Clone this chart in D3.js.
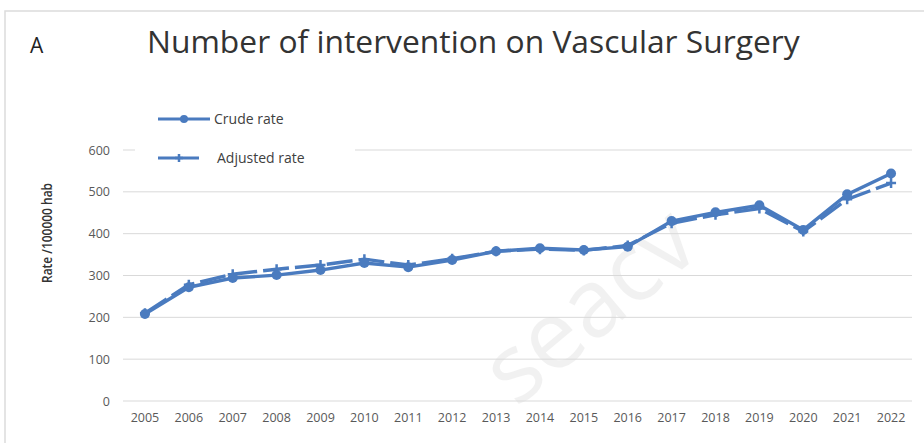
<!DOCTYPE html>
<html>
<head>
<meta charset="utf-8">
<script src="https://cdn.jsdelivr.net/npm/d3@7"></script>
<style>
  body { margin: 0; background: #fff; }
  svg text { font-family: "Open Sans", "DejaVu Sans", sans-serif; }
</style>
</head>
<body>
<svg id="viz" width="924" height="443"></svg>
<script>
const years = ["2005","2006","2007","2008","2009","2010","2011","2012","2013","2014","2015","2016","2017","2018","2019","2020","2021","2022"]
const crude_rate = [208, 272, 294, 301, 313, 330, 320, 337, 358, 365, 361, 369, 430, 451, 468, 409, 494, 544]
const adjusted_rate = [210, 278, 303, 315, 325, 339, 325, 340, 358, 363, 360, 372, 425, 445, 460, 405, 482, 521]
const y_ticks = [0, 100, 200, 300, 400, 500, 600]

const svg = d3.select("#viz"),
    blue = "#4a7bbf"

const x = d3.scaleBand().domain(years).range([123, 913]),
    y = d3.scaleLinear().domain([0, 600]).range([401, 150])

// frame of the original picture
svg.append("path")
    .attr("d", "M5,443 V11 H924")
    .attr("fill", "none")
    .attr("stroke", "#dcdcdc")
    .attr("stroke-width", 1.5)

// watermark
const wm = svg.append("g").attr("transform", "translate(610,330) rotate(-40)")
wm.append("text")
    .attr("text-anchor", "middle")
    .attr("font-size", 95)
    .attr("fill", "#000")
    .attr("opacity", 0.05)
    .text("seacv")

// title
svg.append("text").attr("x", 30).attr("y", 53)
    .attr("font-size", 21).attr("fill", "#222").text("A")
const title = svg.append("text").attr("x", 147).attr("y", 53)
    .attr("font-size", 26).attr("fill", "#333")
    .text("Number of intervention on Vascular Surgery")
// fit the title to the width it has in the picture
const tw = title.node().getComputedTextLength()
title.attr("font-size", 26 * 653 / tw)

// gridlines
svg.append("g").selectAll("line")
    .data(y_ticks)
    .enter().append("line")
    .attr("x1", 123).attr("x2", 912)
    .attr("y1", d => y(d)).attr("y2", d => y(d))
    .attr("stroke", "#d9d9d9").attr("stroke-width", 1)

// y axis
const yAxis = svg.append("g")
    .attr("transform", "translate(110,0)")
    .call(d3.axisLeft(y).tickValues(y_ticks).tickSize(0).tickPadding(0))
yAxis.select(".domain").remove()
yAxis.selectAll("text").attr("font-size", 12.5).attr("fill", "#595959")

// x axis
const xAxis = svg.append("g")
    .attr("transform", "translate(0,413)")
    .call(d3.axisBottom(x).tickSize(0).tickPadding(0))
xAxis.select(".domain").remove()
xAxis.selectAll("text").attr("font-size", 12.5).attr("fill", "#595959").attr("dy", "0.71em")

// y label
svg.append("text")
    .attr("transform", "translate(52,233) rotate(-90)")
    .attr("text-anchor", "middle")
    .attr("font-size", 15)
    .attr("font-weight", 600)
    .attr("fill", "#333")
    .attr("textLength", 100)
    .attr("lengthAdjust", "spacingAndGlyphs")
    .text("Rate /100000 hab")

const cx = d => x(d) + x.bandwidth() / 2

// adjusted rate (dashed)
svg.append("path")
    .datum(adjusted_rate)
    .attr("fill", "none")
    .attr("stroke", blue)
    .attr("stroke-width", 3.4)
    .attr("stroke-dasharray", "26,6")
    .attr("d", d3.line().x((d, i) => cx(years[i])).y(d => y(d)))

svg.append("g").selectAll("path")
    .data(adjusted_rate)
    .enter().append("path")
    .attr("d", (d, i) => {
        let px = cx(years[i]), py = y(d)
        return `M${px - 5},${py} H${px + 5} M${px},${py - 5} V${py + 5}`
    })
    .attr("stroke", blue).attr("stroke-width", 2.5)

// crude rate (solid)
svg.append("path")
    .datum(crude_rate)
    .attr("fill", "none")
    .attr("stroke", blue)
    .attr("stroke-width", 3.4)
    .attr("d", d3.line().x((d, i) => cx(years[i])).y(d => y(d)))

svg.append("g").selectAll("circle")
    .data(crude_rate)
    .enter().append("circle")
    .attr("cx", (d, i) => cx(years[i]))
    .attr("cy", d => y(d))
    .attr("r", 5)
    .attr("fill", blue)

// legend
const legend = svg.append("g")
legend.append("rect")
    .attr("x", 135).attr("y", 100).attr("width", 220).attr("height", 70)
    .attr("fill", "#fff")
legend.append("line")
    .attr("x1", 158).attr("x2", 210).attr("y1", 119).attr("y2", 119)
    .attr("stroke", blue).attr("stroke-width", 3)
legend.append("circle").attr("cx", 184).attr("cy", 119).attr("r", 4).attr("fill", blue)
legend.append("text").attr("x", 214).attr("y", 124)
    .attr("font-size", 14).attr("fill", "#404040").text("Crude rate")

legend.append("line")
    .attr("x1", 158).attr("x2", 199).attr("y1", 158).attr("y2", 158)
    .attr("stroke", blue).attr("stroke-width", 3)
legend.append("path")
    .attr("d", "M179,154 V162 M175,158 H183")
    .attr("stroke", blue).attr("stroke-width", 2.5)
legend.append("text").attr("x", 217).attr("y", 163)
    .attr("font-size", 14).attr("fill", "#404040").text("Adjusted rate")
</script>
</body>
</html>
